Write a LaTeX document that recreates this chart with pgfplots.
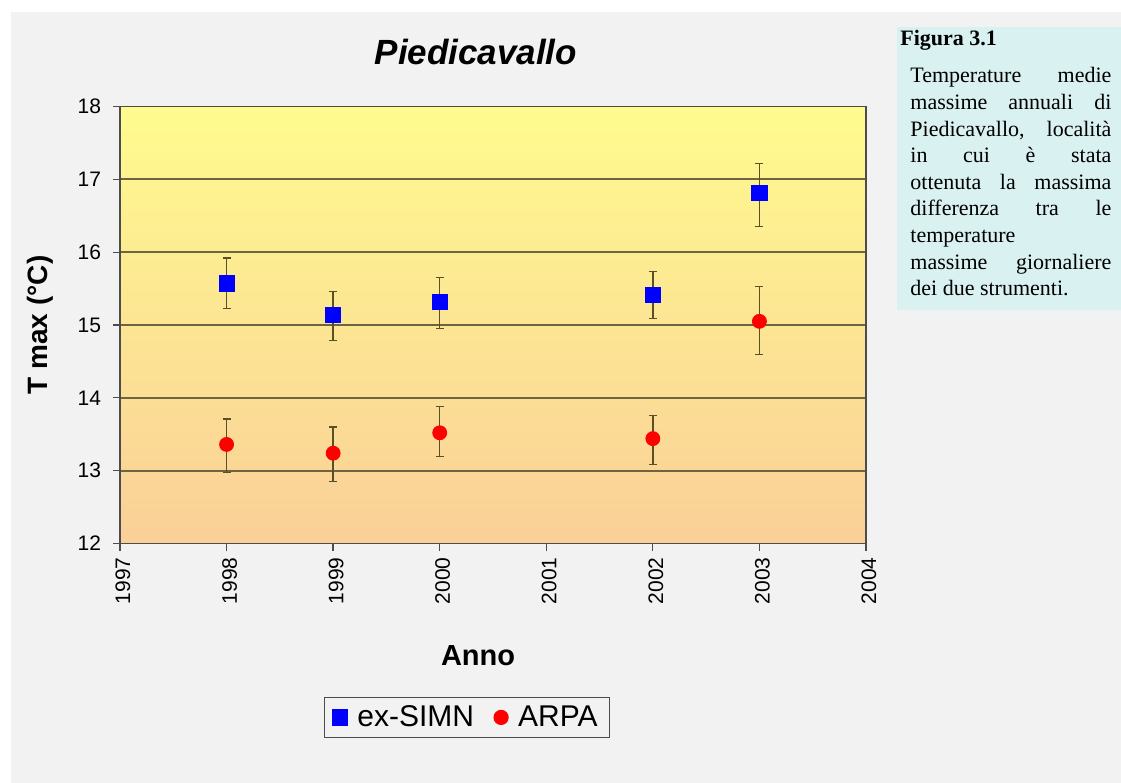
\documentclass[border=0pt]{standalone}
\usepackage{fontspec}
\setmainfont{Liberation Sans}
\newfontfamily\capfont{Liberation Serif}
\usepackage{pgfplots}
\usepackage{pgfplotstable}
\pgfplotsset{compat=1.18}
\definecolor{panel}{HTML}{F2F2F2}
\definecolor{capbg}{HTML}{DAF1F1}
\definecolor{gridc}{HTML}{6E6440}
\definecolor{errc}{HTML}{5A5028}
\definecolor{simn}{HTML}{0000FF}
\definecolor{arpa}{HTML}{FF0000}
\definecolor{bgtop}{HTML}{FFFB8E}
\definecolor{bgbot}{HTML}{FACF98}

% year, value, error plus, error minus
\pgfplotstableread{
x    y     ep   em
1998 15.57 0.35 0.34
1999 15.14 0.32 0.35
2000 15.32 0.33 0.37
2002 15.41 0.32 0.32
2003 16.81 0.41 0.46
}\simndata
\pgfplotstableread{
x    y     ep   em
1998 13.36 0.35 0.39
1999 13.24 0.36 0.39
2000 13.52 0.36 0.33
2002 13.44 0.32 0.36
2003 15.05 0.48 0.46
}\arpadata

\begin{document}
\begin{tikzpicture}
\useasboundingbox (0,0) rectangle (560.5pt,391.5pt);
\fill[white] (0,0) rectangle (560.5pt,391.5pt);
\fill[panel] (5.5pt,0) rectangle (560.5pt,385.5pt);
% caption box
\fill[capbg] (448.5pt,236.5pt) rectangle (560.5pt,378pt);
\node[anchor=base west, inner sep=0pt, font=\capfont\fontsize{11}{13}\selectfont\bfseries]
  at (450pt,368.5pt) {Figura 3.1};
\foreach \txt/\yy in {%
  {\makebox[100.5pt][s]{Temperature medie}}/350,
  {\makebox[100.5pt][s]{massime annuali di}}/336.7,
  {\makebox[100.5pt][s]{Piedicavallo, località}}/323.4,
  {\makebox[100.5pt][s]{in cui è stata}}/310.1,
  {\makebox[100.5pt][s]{ottenuta la massima}}/296.8,
  {\makebox[100.5pt][s]{differenza tra le}}/283.5,
  {temperature}/270.2,
  {\makebox[100.5pt][s]{massime giornaliere}}/256.9,
  {dei due strumenti.}/243.6}
  \node[anchor=base west, inner sep=0pt, font=\capfont\fontsize{11}{13}\selectfont]
    at (455pt,\yy pt) {\txt};

\begin{axis}[
  at={(60pt,119.75pt)}, anchor=south west,
  scale only axis, width=373pt, height=218.5pt,
  xmin=1997, xmax=2004, ymin=12, ymax=18,
  xtick={1997,...,2004}, ytick={12,...,18},
  ymajorgrids, grid style={gridc, line width=0.9pt},
  axis background/.style={top color=bgtop, bottom color=bgbot},
  axis line style={gray!60!black, line width=0.8pt},
  tick align=outside, xtick pos=bottom, ytick pos=left,
  major tick length=3.5pt, tick style={gray!60!black, line width=0.6pt},
  /pgf/number format/assume math mode=true,
  /pgf/number format/1000 sep={},
  x tick label style={rotate=90, anchor=east, font=\fontsize{10.5}{12}\selectfont, yshift=-1.5pt},
  y tick label style={font=\fontsize{10.5}{12}\selectfont, xshift=-2.5pt},
  title={Piedicavallo},
  title style={at={(axis description cs:0.477,1.124)}, anchor=center, yshift=-6pt,
    font=\fontsize{17.5}{20}\selectfont\bfseries\itshape},
  xlabel={Anno},
  xlabel style={at={(axis description cs:0.48,-0.256)}, anchor=center,
    font=\fontsize{14.5}{17}\selectfont\bfseries},
  ylabel={T max (°C)},
  ylabel style={at={(axis description cs:-0.107,0.5)}, anchor=center,
    font=\fontsize{14}{17}\selectfont\bfseries},
  legend style={at={(axis description cs:0.465,-0.398)}, anchor=center,
    legend columns=2, draw=gray!60!black, fill=none, line width=0.6pt,
    font=\fontsize{15}{18}\selectfont, inner xsep=4pt, inner ysep=2pt,
    /tikz/every even column/.append style={column sep=8pt},
    /tikz/every odd column/.append style={column sep=3pt}},
]
\addplot[only marks, mark=square*, mark size=3.8pt, color=simn,
  error bars/.cd, y dir=both, y explicit,
  error bar style={errc, line width=0.7pt},
  error mark options={rotate=90, errc, mark size=2pt, line width=0.6pt}]
  table[x=x, y=y, y error plus=ep, y error minus=em] {\simndata};
\addlegendentry{ex-SIMN}
\addplot[only marks, mark=*, mark size=3.5pt, color=arpa,
  error bars/.cd, y dir=both, y explicit,
  error bar style={errc, line width=0.7pt},
  error mark options={rotate=90, errc, mark size=2pt, line width=0.6pt}]
  table[x=x, y=y, y error plus=ep, y error minus=em] {\arpadata};
\addlegendentry{ARPA}
\end{axis}
\end{tikzpicture}
\end{document}
